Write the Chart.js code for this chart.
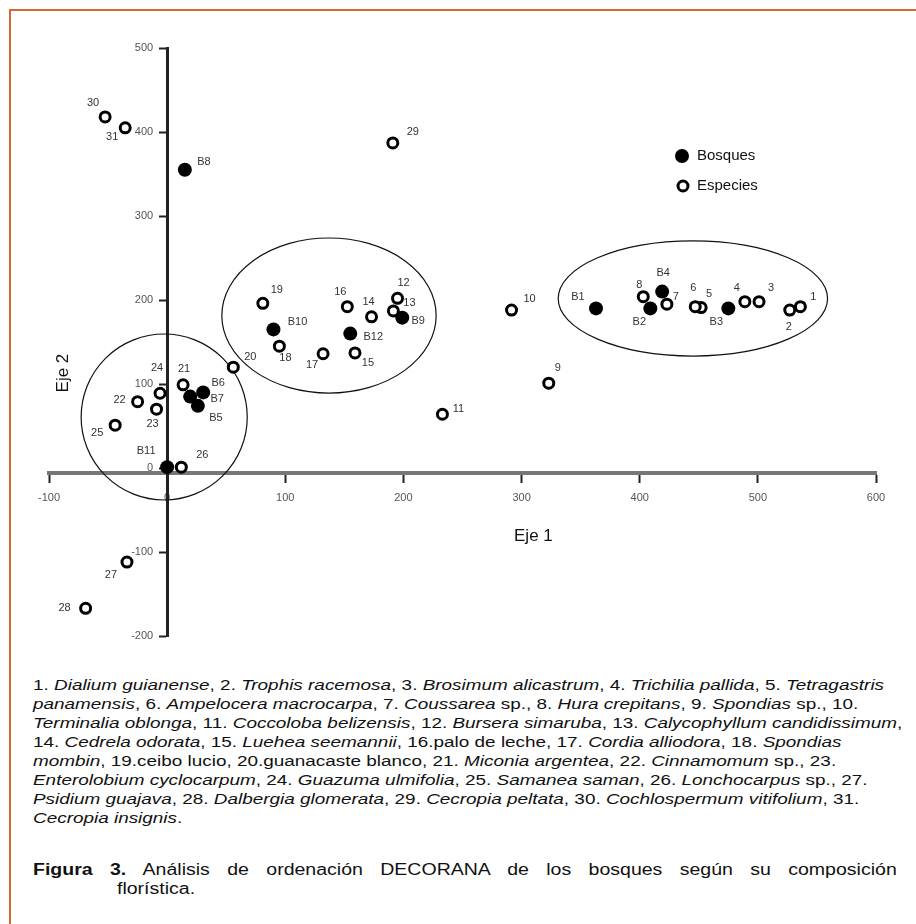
<!DOCTYPE html>
<html><head><meta charset="utf-8">
<script src="https://cdn.jsdelivr.net/npm/chart.js@4/dist/chart.umd.min.js"></script>
<style>
html,body{margin:0;padding:0;background:#fff;width:916px;height:924px;overflow:hidden;font-family:"Liberation Sans",Arial,sans-serif;}
#frame{position:absolute;left:9px;top:9px;width:907px;height:915px;border-top:2px solid #d4683a;border-left:2px solid #d4683a;box-sizing:border-box;}
#wrap{position:absolute;left:0;top:0;width:916px;height:650px;}
#note{position:absolute;left:33px;top:675px;font-size:15.5px;line-height:19px;color:#111;white-space:nowrap;transform:scaleX(1.22);transform-origin:0 0;}
#fig1{position:absolute;left:33px;top:860px;width:708px;font-size:16px;line-height:19px;color:#111;text-align:justify;text-align-last:justify;transform:scaleX(1.22);transform-origin:0 0;}
#fig2{position:absolute;left:117px;top:879px;font-size:16px;line-height:19px;color:#111;transform:scaleX(1.22);transform-origin:0 0;}
</style></head>
<body>
<div id="frame"></div>
<div id="wrap"><canvas id="c" width="916" height="650"></canvas></div>
<div id="note">
1. <i>Dialium guianense</i>, 2. <i>Trophis racemosa</i>, 3. <i>Brosimum alicastrum</i>, 4. <i>Trichilia pallida</i>, 5. <i>Tetragastris</i><br>
<i>panamensis</i>, 6. <i>Ampelocera macrocarpa</i>, 7. <i>Coussarea</i> sp., 8. <i>Hura crepitans</i>, 9. <i>Spondias</i> sp., 10.<br>
<i>Terminalia oblonga</i>, 11. <i>Coccoloba belizensis</i>, 12. <i>Bursera simaruba</i>, 13. <i>Calycophyllum candidissimum</i>,<br>
14. <i>Cedrela odorata</i>, 15. <i>Luehea seemannii</i>, 16.palo de leche, 17. <i>Cordia alliodora</i>, 18. <i>Spondias</i><br>
<i>mombin</i>, 19.ceibo lucio, 20.guanacaste blanco, 21. <i>Miconia argentea</i>, 22. <i>Cinnamomum</i> sp., 23.<br>
<i>Enterolobium cyclocarpum</i>, 24. <i>Guazuma ulmifolia</i>, 25. <i>Samanea saman</i>, 26. <i>Lonchocarpus</i> sp., 27.<br>
<i>Psidium guajava</i>, 28. <i>Dalbergia glomerata</i>, 29. <i>Cecropia peltata</i>, 30. <i>Cochlospermum vitifolium</i>, 31.<br>
<i>Cecropia insignis</i>.
</div>
<div id="fig1"><b>Figura 3.</b> Análisis de ordenación DECORANA de los bosques según su composición</div>
<div id="fig2">florística.</div>
<script>
// ---- data ----
const bosquesLabels = ['B1','B2','B3','B4','B5','B6','B7','B8','B9','B10','B11','B12'];
const bosquesX = [363, 409, 475, 419, 26, 30.5, 19.5, 15, 199, 90, 0, 155];
const bosquesY = [190, 190, 190, 210, 74, 90, 85, 355, 179, 165, 1, 160];

const especiesLabels = ['1','2','3','4','5','6','7','8','9','10','11','12','13','14','15','16','17','18','19','20','21','22','23','24','25','26','27','28','29','30','31'];
const especiesX = [536, 527, 501, 489, 452, 447, 423, 403, 323, 291.5, 233, 195, 191.5, 173, 159, 152.5, 132, 95, 81, 56, 13.5, -25, -9, -6, -44, 12, -34, -69, 191, -52.5, -35.5];
const especiesY = [192, 188, 198, 198, 191, 192, 195, 204, 101, 188, 64, 202, 187, 180, 137, 192, 136, 145, 196, 120, 99, 79, 70, 89, 51, 1, -112, -167, 387, 418, 405];

const xTicks = [-100, 0, 100, 200, 300, 400, 500, 600];
const yTicks = [-200, -100, 0, 100, 200, 300, 400, 500];

// grouping ellipses (data units)
const ellipseCX = [-2.5, 137, 445];
const ellipseCY = [60.7, 181.5, 201.8];
const ellipseRX = [70.3, 90.7, 114];
const ellipseRY = [98.8, 92.3, 68.5];

const seriesNames = ['Bosques', 'Especies'];
const axisTitles = ['Eje 1', 'Eje 2'];

// ---- label offsets (style, px) ----
const bosquesLabelOffsets = {B1:[-18,-11],B2:[-11,14],B3:[-12,14],B4:[1,-19],B5:[18,12],B6:[15,-9],B7:[27,2],B8:[19,-8],B9:[16,3],B10:[24,-7],B11:[-21,-16],B12:[23,3]};
const especiesLabelOffsets = {1:[13,-10],2:[-1,17],3:[12,-14],4:[-8,-14],5:[8,-14],6:[-2,-19],7:[9,-7],8:[-4,-12],9:[9,-15],10:[18,-11],11:[16,-5],12:[6,-15],13:[16,-8],14:[-3,-15],15:[13,10],16:[-7,-15],17:[-11,11],18:[6,12],19:[14,-13],20:[17,-10],21:[1,-16],22:[-18,-2],23:[-4,15],24:[-3,-25],25:[-18,8],26:[21,-12],27:[-16,13],28:[-21,0],29:[20,-11],30:[-12,-14],31:[-13,9]};

const FONT = '"Liberation Sans", Arial, sans-serif';

const zeroFit = s => { if (s.isHorizontal()) s.height = 0; else s.width = 0; s.paddingLeft = s.paddingRight = s.paddingTop = s.paddingBottom = 0; };

const decorPlugin = {
  id: 'decor',
  beforeDatasetsDraw(chart) {
    const {ctx, scales: {x, y}} = chart;
    ctx.save();
    ctx.strokeStyle = '#111';
    ctx.lineWidth = 1.2;
    for (let i = 0; i < ellipseCX.length; i++) {
      const cx = x.getPixelForValue(ellipseCX[i]);
      const cy = y.getPixelForValue(ellipseCY[i]);
      const rx = Math.abs(x.getPixelForValue(ellipseCX[i] + ellipseRX[i]) - cx);
      const ry = Math.abs(y.getPixelForValue(ellipseCY[i] + ellipseRY[i]) - cy);
      ctx.beginPath();
      ctx.ellipse(cx, cy, rx, ry, 0, 0, Math.PI * 2);
      ctx.stroke();
    }
    // y-axis tick labels, placed by the y scale, left of the axis
    ctx.font = '11px ' + FONT;
    ctx.fillStyle = '#555';
    ctx.textAlign = 'right';
    ctx.textBaseline = 'middle';
    const ax = x.getPixelForValue(0);
    yTicks.forEach(v => ctx.fillText(String(v), ax - 14, y.getPixelForValue(v)));
    ctx.restore();
  },
  afterDatasetsDraw(chart) {
    const {ctx} = chart;
    ctx.save();
    ctx.font = '11px ' + FONT;
    ctx.fillStyle = '#333';
    ctx.textAlign = 'center';
    ctx.textBaseline = 'middle';
    const groups = [[bosquesLabels, bosquesLabelOffsets], [especiesLabels, especiesLabelOffsets]];
    chart.data.datasets.forEach((ds, di) => {
      const meta = chart.getDatasetMeta(di);
      const [labels, offs] = groups[ds.groupIndex];
      meta.data.forEach((pt, i) => {
        const o = offs[labels[i]] || [10, -10];
        ctx.fillText(labels[i], pt.x + o[0], pt.y + o[1]);
      });
    });
    ctx.restore();
  },
  afterDraw(chart) {
    const {ctx, scales: {x, y}} = chart;
    ctx.save();
    ctx.fillStyle = '#111';
    ctx.font = '17px ' + FONT;
    ctx.textAlign = 'center';
    ctx.textBaseline = 'middle';
    ctx.fillText(axisTitles[0], x.getPixelForValue(310), y.getPixelForValue(-81));
    ctx.save();
    ctx.translate(x.getPixelForValue(-88), y.getPixelForValue(113));
    ctx.rotate(-Math.PI / 2);
    ctx.fillText(axisTitles[1], 0, 0);
    ctx.restore();
    // legend
    const lx = 682, ly = [156, 186];
    ctx.beginPath(); ctx.arc(lx, ly[0], 7, 0, Math.PI * 2); ctx.fillStyle = '#000'; ctx.fill();
    ctx.beginPath(); ctx.arc(lx + 1, ly[1], 5, 0, Math.PI * 2); ctx.fillStyle = '#fff'; ctx.fill();
    ctx.lineWidth = 3; ctx.strokeStyle = '#000'; ctx.stroke();
    ctx.fillStyle = '#111';
    ctx.font = '15px ' + FONT;
    ctx.textAlign = 'left';
    ctx.fillText(seriesNames[0], lx + 15, ly[0]);
    ctx.fillText(seriesNames[1], lx + 15, ly[1]);
    ctx.restore();
  }
};

new Chart(document.getElementById('c'), {
  type: 'scatter',
  data: {
    datasets: [
      {label: seriesNames[0], groupIndex: 0, order: 2,
       data: bosquesX.map((v, i) => ({x: v, y: bosquesY[i]})),
       pointRadius: 7, pointHoverRadius: 7, backgroundColor: '#000', borderColor: '#000', borderWidth: 0},
      {label: seriesNames[1], groupIndex: 1, order: 1,
       data: especiesX.map((v, i) => ({x: v, y: especiesY[i]})),
       pointRadius: 5, pointHoverRadius: 5, backgroundColor: '#fff', borderColor: '#000', borderWidth: 3}
    ]
  },
  options: {
    responsive: false,
    animation: false,
    devicePixelRatio: 1,
    layout: {padding: {left: 49, right: 40, top: 48, bottom: 14}},
    plugins: {legend: {display: false}, tooltip: {enabled: false}},
    scales: {
      x: {
        type: 'linear', min: -100, max: 600, position: {y: -6},
        afterBuildTicks: s => { s.ticks = xTicks.map(v => ({value: v})); },
        afterFit: zeroFit,
        grid: {drawOnChartArea: false, drawTicks: true, tickLength: 8, tickWidth: 2, tickColor: '#222'},
        border: {display: true, color: '#777', width: 4},
        ticks: {color: '#555', font: {size: 11, family: FONT}, padding: 10, maxRotation: 0, autoSkip: false}
      },
      y: {
        type: 'linear', min: -200, max: 500, position: {x: 0},
        afterBuildTicks: s => { s.ticks = yTicks.map(v => ({value: v})); },
        afterFit: zeroFit,
        grid: {drawOnChartArea: false, drawTicks: true, tickLength: 7, tickWidth: 2, tickColor: '#222'},
        border: {display: true, color: '#222', width: 3},
        ticks: {display: false, autoSkip: false}
      }
    }
  },
  plugins: [decorPlugin]
});
</script>
</body></html>
